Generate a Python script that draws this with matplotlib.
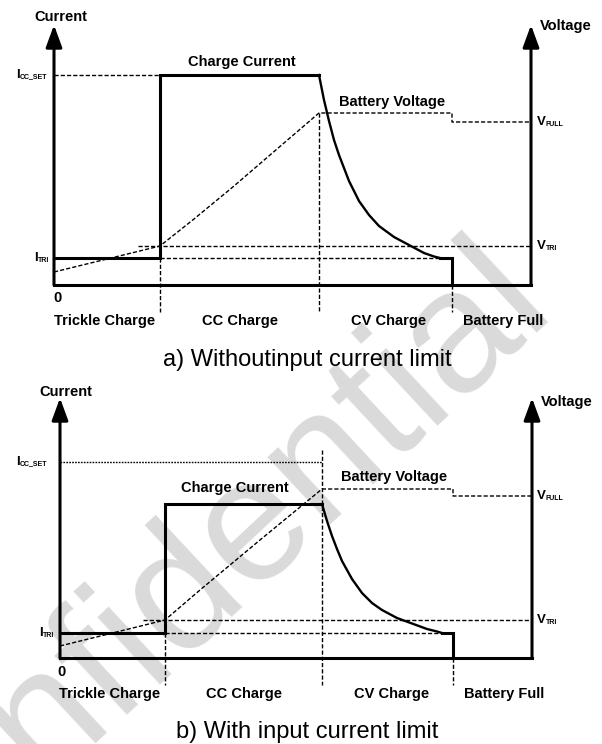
import numpy as np
import matplotlib.pyplot as plt

plt.rcParams['font.family'] = ['Liberation Sans', 'DejaVu Sans']

#=======================================================================
# Data (units ~ pixels measured from each panel's origin)
#=======================================================================
phase_names = ['Trickle Charge', 'CC Charge', 'CV Charge', 'Battery Full']

# a) without input current limit
a_phase_t = [0, 106, 265, 398]
a_axis_end = 477
a_i_tri = 27
a_i_set = 210
a_i_cc = 210
a_v_start = 13
a_v_tri = 39
a_v_cv = 172
a_v_full = 163
a_vbat_t = [106, 140, 180, 223, 265]
a_vbat_v = [39, 66, 99, 136, 172]
a_cv_t = [265, 270, 275, 280, 285, 295, 305, 315, 325, 340, 355, 370, 380, 386]
a_cv_i = [210, 185, 164, 145, 130, 104, 84, 70, 59, 48, 40, 32, 28.5, 27]

# b) with input current limit
b_phase_t = [0, 105, 262, 393]
b_axis_end = 472
b_i_tri = 25
b_i_set = 196
b_i_cc = 154
b_v_start = 12
b_v_tri = 38
b_v_cv = 169
b_v_full = 162
b_vbat_t = [105, 140, 200, 262]
b_vbat_v = [38, 68, 118, 169]
b_cv_t = [262, 267, 272, 277, 282, 292, 302, 312, 322, 337, 352, 367, 377, 382]
b_cv_i = [154, 137, 122, 109, 97, 79, 65, 55, 48, 40, 34.5, 29, 26.5, 25]

DASH = (0, (3, 1.5))
DOT = (0, (1.2, 0.9))
THICK = 2.2


def arrow(ax, x, y_tip):
	ax.annotate('', xy=(x, y_tip), xytext=(x, 0),
				arrowprops=dict(arrowstyle='-|>,head_length=0.9,head_width=0.33',
								lw=THICK, color='k', mutation_scale=15,
								shrinkA=0, shrinkB=0))


def sub_label(ax, x, y, main, sub):
	t = ax.text(x, y, main, fontsize=9.5, fontweight='bold', ha='left', va='center')
	ax.annotate(sub, xy=(1, 0.2), xycoords=t, fontsize=5, fontweight='bold',
				ha='left', va='baseline')


def panel(ax, phase_t, axis_end, i_tri, i_set, i_cc, v_start, v_tri, v_cv, v_full,
		vbat_t, vbat_v, cv_t, cv_i, vtri_from, cv_mark_top, set_style, set_end, tip):
	t_cc, t_cv, t_full = phase_t[1], phase_t[2], phase_t[3]
	# axes
	ax.plot([0, axis_end], [0, 0], color='k', lw=THICK, solid_capstyle='projecting')
	arrow(ax, 0, tip)
	arrow(ax, axis_end, tip)
	# reference lines
	ax.plot([0, set_end], [i_set, i_set], color='k', lw=1, ls=set_style)
	ax.plot([t_cc, cv_t[-1]], [i_tri, i_tri], color='k', lw=1, ls=DASH)
	ax.plot([vtri_from, axis_end], [v_tri, v_tri], color='k', lw=1, ls=DASH)
	ax.plot([t_cc, t_cc], [i_tri, -27], color='k', lw=1, ls=DASH)
	ax.plot([t_cv, t_cv], [cv_mark_top, -27], color='k', lw=1, ls=DASH)
	ax.plot([t_full, t_full], [0, -27], color='k', lw=1, ls=DASH)
	# battery voltage
	ax.plot([0] + vbat_t + [t_full, t_full, axis_end],
			[v_start] + vbat_v + [v_cv, v_full, v_full], color='k', lw=1, ls=DASH)
	# charge current
	ax.plot([0, t_cc, t_cc, t_cv], [i_tri, i_tri, i_cc, i_cc], color='k', lw=THICK,
			solid_joinstyle='miter')
	ax.plot(cv_t, cv_i, color='k', lw=1.7)
	ax.plot([cv_t[-1], t_full, t_full], [i_tri, i_tri, 0], color='k', lw=THICK,
			solid_joinstyle='miter')


fig = plt.figure(figsize=(6.02, 7.44), dpi=100)
ax_a = fig.add_axes([0, 0.5, 1, 0.5])
ax_b = fig.add_axes([0, 0, 1, 0.5])
ax_a.set_xlim(-54, 548)
ax_a.set_ylim(-87, 285)
ax_b.set_xlim(-60, 542)
ax_b.set_ylim(-86, 286)
for ax in (ax_a, ax_b):
	ax.axis('off')
	ax.patch.set_visible(False)

# watermark
fig.text(0.309, 0.207, 'Confidential', rotation=43, fontsize=126, color='#dadada',
		ha='center', va='center', zorder=-1)

panel(ax_a, a_phase_t, a_axis_end, a_i_tri, a_i_set, a_i_cc, a_v_start, a_v_tri,
	a_v_cv, a_v_full, a_vbat_t, a_vbat_v, a_cv_t, a_cv_i, 84, a_v_cv, DASH,
	a_phase_t[1], 260)
panel(ax_b, b_phase_t, b_axis_end, b_i_tri, b_i_set, b_i_cc, b_v_start, b_v_tri,
	b_v_cv, b_v_full, b_vbat_t, b_vbat_v, b_cv_t, b_cv_i, 83, 208, DOT,
	b_phase_t[2], 260)

#~~~~~~~~~~~~~~~~~~~~~~~~~~~~~~~~~~ texts a
bold = dict(fontsize=10.5, fontweight='bold', ha='center', va='center')
ax_a.text(7, 268, 'Current', **bold)
ax_a.text(486, 259, 'Voltage', fontsize=10.5, fontweight='bold', ha='left', va='center')
ax_a.text(188, 223, 'Charge Current', **bold)
ax_a.text(338, 183, 'Battery Voltage', **bold)
ax_a.text(3, -13, '0', **bold)
for name, t in zip(phase_names, [51, 186, 335, 449]):
	ax_a.text(t, -36, name, **bold)
sub_label(ax_a, -38, a_i_set, 'I', 'CC_SET')
sub_label(ax_a, -20, a_i_tri, 'I', 'TRI')
sub_label(ax_a, 483, a_v_full, 'V', 'FULL')
sub_label(ax_a, 483, a_v_tri, 'V', 'TRI')
ax_a.text(253, -81, 'a) Withoutinput current limit', fontsize=17, ha='center', va='baseline')

#~~~~~~~~~~~~~~~~~~~~~~~~~~~~~~~~~~ texts b
ax_b.text(6, 266, 'Current', **bold)
ax_b.text(481, 256, 'Voltage', fontsize=10.5, fontweight='bold', ha='left', va='center')
ax_b.text(175, 170, 'Charge Current', **bold)
ax_b.text(334, 181, 'Battery Voltage', **bold)
ax_b.text(2, -14, '0', **bold)
for name, t in zip(phase_names, [50, 184, 332, 444]):
	ax_b.text(t, -36, name, **bold)
sub_label(ax_b, -44, b_i_set, 'I', 'CC_SET')
sub_label(ax_b, -21, b_i_tri, 'I', 'TRI')
sub_label(ax_b, 477, b_v_full, 'V', 'FULL')
sub_label(ax_b, 477, b_v_tri, 'V', 'TRI')
ax_b.text(247, -80, 'b) With input current limit', fontsize=17, ha='center', va='baseline')

fig.savefig('out.png', dpi=100)
